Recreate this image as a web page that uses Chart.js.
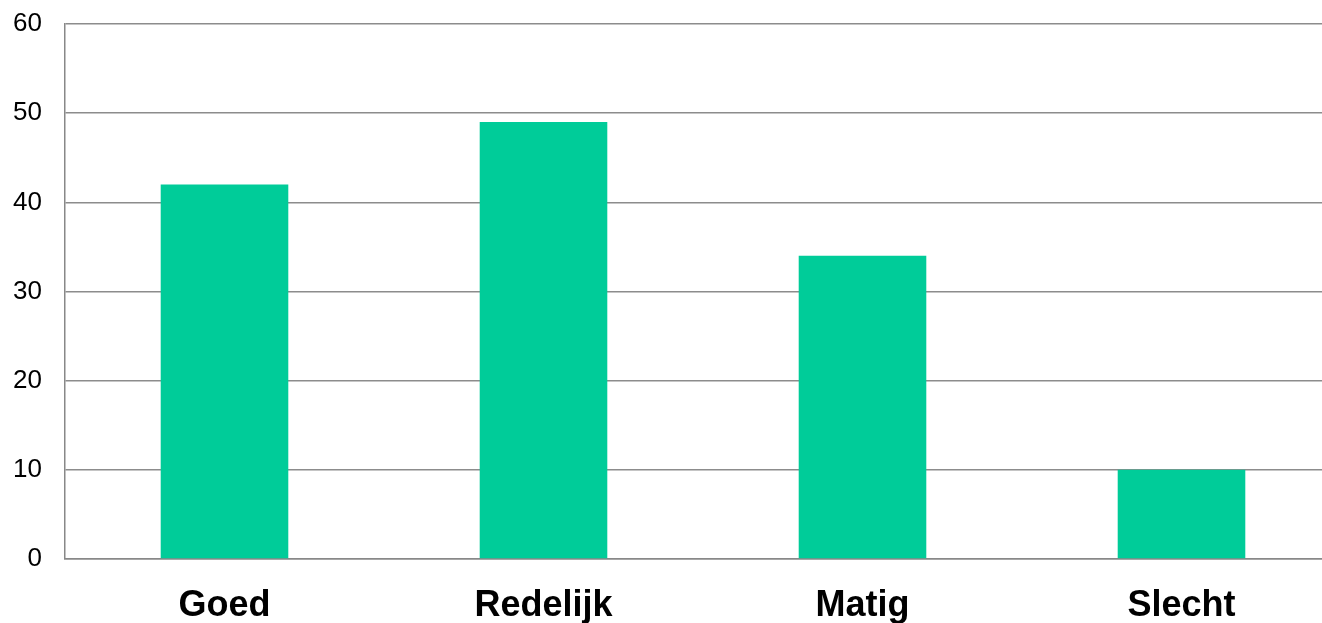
<!DOCTYPE html>
<html>
<head>
<meta charset="utf-8">
<script src="https://cdn.jsdelivr.net/npm/chart.js@4"></script>
<style>
html,body{margin:0;padding:0;overflow:hidden;background:#fff;}
canvas{display:block;}
</style>
</head>
<body>
<canvas id="c" width="1341" height="623"></canvas>
<script>
const categories = ["Goed", "Redelijk", "Matig", "Slecht"];
const values = [42, 49, 34, 10];
const yTicks = [0, 10, 20, 30, 40, 50, 60];

new Chart(document.getElementById('c'), {
  type: 'bar',
  data: {
    labels: categories,
    datasets: [{
      data: values,
      backgroundColor: '#00CC99',
      borderWidth: 0,
      categoryPercentage: 1.0,
      barPercentage: 0.4
    }]
  },
  options: {
    responsive: false,
    animation: false,
    devicePixelRatio: 1,
    layout: { padding: { top: 24, right: 0, left: 0, bottom: 0 } },
    plugins: { legend: { display: false }, tooltip: { enabled: false } },
    scales: {
      x: {
        grid: { display: false, drawTicks: false },
        border: { display: true, color: '#888888', width: 1.5 },
        ticks: {
          color: '#000000',
          font: { family: 'Liberation Sans, Arial, sans-serif', size: 36, weight: 'bold' },
          padding: 25,
          maxRotation: 0
        },
        afterFit: (s) => { s.height = 64; s.paddingLeft = 0; s.paddingRight = 0; }
      },
      y: {
        min: 0,
        max: 60,
        afterBuildTicks: (s) => { s.ticks = yTicks.map(v => ({ value: v })); },
        grid: { color: '#8c8c8c', lineWidth: 1.5, drawTicks: false },
        border: { display: true, color: '#888888', width: 1.5 },
        ticks: {
          color: '#000000',
          font: { family: 'Liberation Sans, Arial, sans-serif', size: 26 },
          padding: 23
        },
        afterFit: (s) => { s.width = 65; s.paddingTop = 0; s.paddingBottom = 0; }
      }
    }
  }
});
</script>
</body>
</html>
